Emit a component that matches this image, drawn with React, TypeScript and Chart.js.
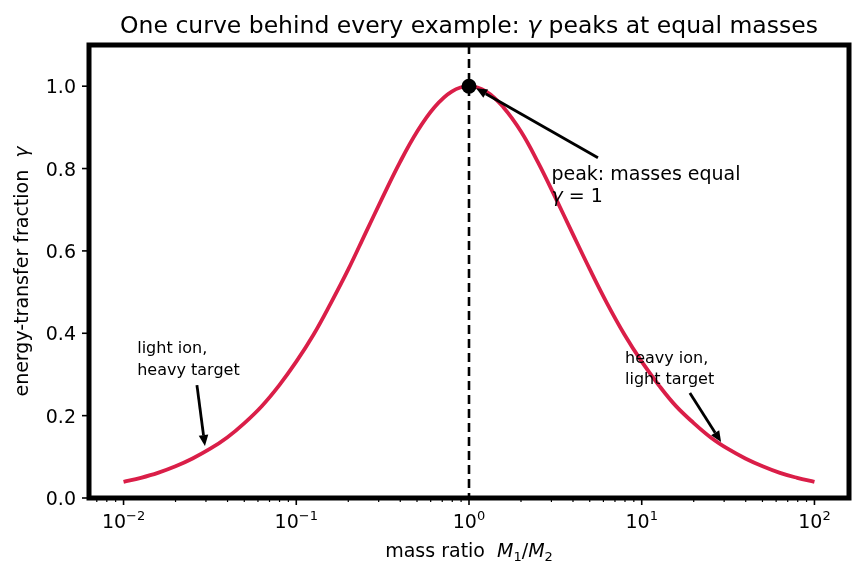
import { useEffect, useRef } from "react";
import { Chart, registerables } from "chart.js";

Chart.register(...registerables);

// ---- data ----
const massRatio = [
  0.01, 0.0126, 0.0158, 0.02, 0.0251, 0.0316, 0.0398, 0.0501, 0.0631, 0.0794,
  0.1, 0.126, 0.158, 0.2, 0.251, 0.316, 0.398, 0.501, 0.631, 0.794,
  1,
  1.26, 1.58, 2.0, 2.51, 3.16, 3.98, 5.01, 6.31, 7.94,
  10, 12.6, 15.8, 20, 25.1, 31.6, 39.8, 50.1, 63.1, 79.4, 100,
];
const gammaValues = [
  0.039, 0.049, 0.061, 0.077, 0.096, 0.119, 0.147, 0.182, 0.223, 0.273,
  0.331, 0.397, 0.472, 0.555, 0.642, 0.730, 0.815, 0.890, 0.949, 0.987,
  1.0,
  0.987, 0.949, 0.890, 0.815, 0.730, 0.642, 0.555, 0.472, 0.397,
  0.331, 0.273, 0.223, 0.182, 0.147, 0.119, 0.096, 0.077, 0.061, 0.049, 0.039,
];
const peakRatio = [1];
const peakGamma = [1];
const yTickValues = [0, 0.2, 0.4, 0.6, 0.8, 1.0];
const yTickLabels = ["0.0", "0.2", "0.4", "0.6", "0.8", "1.0"];
const xTickValues = [0.01, 0.1, 1, 10, 100];
const xTickExponents = ["\u22122", "\u22121", "0", "1", "2"];
const xMin = Math.pow(10, -2.2);
const xMax = Math.pow(10, 2.2);

const FONT = "'DejaVu Sans', sans-serif";
const CURVE = "#DA1E48";

type Run = { text: string; font: string; dy?: number };

function drawRuns(ctx: CanvasRenderingContext2D, runs: Run[], x: number, y: number, align: "left" | "center") {
  let total = 0;
  for (const r of runs) {
    ctx.font = r.font;
    total += ctx.measureText(r.text).width;
  }
  let cx = align === "center" ? x - total / 2 : x;
  ctx.textAlign = "left";
  ctx.textBaseline = "alphabetic";
  for (const r of runs) {
    ctx.font = r.font;
    ctx.fillText(r.text, cx, y + (r.dy || 0));
    cx += ctx.measureText(r.text).width;
  }
}

function drawArrow(ctx: CanvasRenderingContext2D, x1: number, y1: number, x2: number, y2: number) {
  const ang = Math.atan2(y2 - y1, x2 - x1);
  const hl = 11;
  const hw = 4.8;
  const bx = x2 - hl * Math.cos(ang);
  const by = y2 - hl * Math.sin(ang);
  ctx.save();
  ctx.strokeStyle = "#000";
  ctx.fillStyle = "#000";
  ctx.lineWidth = 2.8;
  ctx.beginPath();
  ctx.moveTo(x1, y1);
  ctx.lineTo(bx, by);
  ctx.stroke();
  ctx.beginPath();
  ctx.moveTo(x2, y2);
  ctx.lineTo(bx + hw * Math.sin(ang), by - hw * Math.cos(ang));
  ctx.lineTo(bx - hw * Math.sin(ang), by + hw * Math.cos(ang));
  ctx.closePath();
  ctx.fill();
  ctx.restore();
}

const decor = {
  id: "decor",
  beforeDatasetsDraw(chart: any) {
    const { ctx, chartArea } = chart;
    const xs = chart.scales.x;
    const px = xs.getPixelForValue(1);
    ctx.save();
    ctx.strokeStyle = "#000";
    ctx.lineWidth = 2.6;
    ctx.setLineDash([9, 5]);
    ctx.beginPath();
    ctx.moveTo(px, chartArea.top);
    ctx.lineTo(px, chartArea.bottom);
    ctx.stroke();
    ctx.restore();
  },
  afterDraw(chart: any) {
    const { ctx, chartArea } = chart;
    const xs = chart.scales.x;
    const ys = chart.scales.y;
    const { left, right, top, bottom } = chartArea;
    ctx.save();
    ctx.fillStyle = "#000";
    ctx.strokeStyle = "#000";

    // y ticks
    ctx.lineWidth = 1.6;
    yTickValues.forEach((v, i) => {
      const y = ys.getPixelForValue(v);
      ctx.beginPath();
      ctx.moveTo(left - 7, y);
      ctx.lineTo(left, y);
      ctx.stroke();
      ctx.font = `19px ${FONT}`;
      ctx.textAlign = "right";
      ctx.textBaseline = "alphabetic";
      ctx.fillText(yTickLabels[i], left - 13, y + 7);
    });

    // x minor ticks
    ctx.lineWidth = 1.2;
    for (let e = -3; e <= 2; e++) {
      for (let m = 2; m <= 9; m++) {
        const v = m * Math.pow(10, e);
        if (v < xMin || v > xMax) continue;
        const x = xs.getPixelForValue(v);
        ctx.beginPath();
        ctx.moveTo(x, bottom);
        ctx.lineTo(x, bottom + 4);
        ctx.stroke();
      }
    }
    // x major ticks + labels
    ctx.lineWidth = 1.6;
    xTickValues.forEach((v, i) => {
      const x = xs.getPixelForValue(v);
      ctx.beginPath();
      ctx.moveTo(x, bottom);
      ctx.lineTo(x, bottom + 7);
      ctx.stroke();
      drawRuns(
        ctx,
        [
          { text: "10", font: `19px ${FONT}` },
          { text: xTickExponents[i], font: `13px ${FONT}`, dy: -8 },
        ],
        x,
        528,
        "center"
      );
    });

    // frame
    ctx.lineWidth = 5;
    ctx.strokeRect(left, top, right - left, bottom - top);

    // title
    drawRuns(
      ctx,
      [
        { text: "One curve behind every example: ", font: `23.5px ${FONT}` },
        { text: "\u03b3", font: `italic 23.5px ${FONT}` },
        { text: " peaks at equal masses", font: `23.5px ${FONT}` },
      ],
      (left + right) / 2,
      33,
      "center"
    );

    // x axis label
    drawRuns(
      ctx,
      [
        { text: "mass ratio  ", font: `19px ${FONT}` },
        { text: "M", font: `italic 19px ${FONT}` },
        { text: "1", font: `13px ${FONT}`, dy: 4 },
        { text: "/", font: `19px ${FONT}` },
        { text: "M", font: `italic 19px ${FONT}` },
        { text: "2", font: `13px ${FONT}`, dy: 4 },
      ],
      (left + right) / 2,
      557,
      "center"
    );

    // y axis label
    ctx.save();
    ctx.translate(28, (top + bottom) / 2);
    ctx.rotate(-Math.PI / 2);
    drawRuns(
      ctx,
      [
        { text: "energy-transfer fraction  ", font: `19px ${FONT}` },
        { text: "\u03b3", font: `italic 19px ${FONT}` },
      ],
      0,
      0,
      "center"
    );
    ctx.restore();

    // annotations
    const P = (x: number, y: number) => [xs.getPixelForValue(x), ys.getPixelForValue(y)];
    const [pa, pb] = P(5.58, 0.826);
    const [pc, pd] = P(1.1, 0.995);
    drawArrow(ctx, pa, pb, pc, pd);
    const [la, lb] = P(0.0266, 0.274);
    const [lc, ld] = P(0.0296, 0.126);
    drawArrow(ctx, la, lb, lc, ld);
    const [ha, hb] = P(19.0, 0.255);
    const [hc, hd] = P(28.8, 0.136);
    drawArrow(ctx, ha, hb, hc, hd);

    const [tx, ty] = P(3, 0.772);
    drawRuns(ctx, [{ text: "peak: masses equal", font: `19px ${FONT}` }], tx, ty, "left");
    drawRuns(
      ctx,
      [
        { text: "\u03b3", font: `italic 19px ${FONT}` },
        { text: " = 1", font: `19px ${FONT}` },
      ],
      tx,
      ty + 22,
      "left"
    );
    const [lx, ly] = P(0.012, 0.352);
    drawRuns(ctx, [{ text: "light ion,", font: `16px ${FONT}` }], lx, ly, "left");
    drawRuns(ctx, [{ text: "heavy target", font: `16px ${FONT}` }], lx, ly + 22, "left");
    const [hx, hy] = P(8, 0.329);
    drawRuns(ctx, [{ text: "heavy ion,", font: `16px ${FONT}` }], hx, hy, "left");
    drawRuns(ctx, [{ text: "light target", font: `16px ${FONT}` }], hx, hy + 21.5, "left");

    ctx.restore();
  },
};

export default function App() {
  const ref = useRef<HTMLCanvasElement>(null);
  useEffect(() => {
    const chart = new Chart(ref.current as HTMLCanvasElement, {
      type: "line",
      data: {
        datasets: [
          {
            data: massRatio.map((x, i) => ({ x, y: gammaValues[i] })),
            borderColor: CURVE,
            borderWidth: 3.8,
            pointRadius: 0,
            tension: 0.4,
            fill: false,
            order: 2,
          } as any,
          {
            type: "scatter",
            data: peakRatio.map((x, i) => ({ x, y: peakGamma[i] })),
            pointRadius: 7.5,
            pointBackgroundColor: "#000",
            pointBorderColor: "#000",
            pointBorderWidth: 0,
            showLine: false,
            order: 1,
          } as any,
        ],
      },
      options: {
        animation: false,
        responsive: false,
        maintainAspectRatio: false,
        devicePixelRatio: 1,
        events: [],
        layout: { padding: { left: 89, top: 45, right: 13, bottom: 80 } },
        plugins: {
          legend: { display: false },
          tooltip: { enabled: false },
          title: { display: false },
        },
        scales: {
          x: { type: "logarithmic", min: xMin, max: xMax, bounds: "data", display: false },
          y: { type: "linear", min: 0, max: 1.1, display: false },
        },
      } as any,
      plugins: [decor],
    });
    return () => chart.destroy();
  }, []);
  return (
    <div style={{ position: "fixed", left: 0, top: 0, width: 862, height: 578, background: "#fff" }}>
      <canvas ref={ref} width={862} height={578} style={{ width: 862, height: 578, display: "block" }} />
    </div>
  );
}
